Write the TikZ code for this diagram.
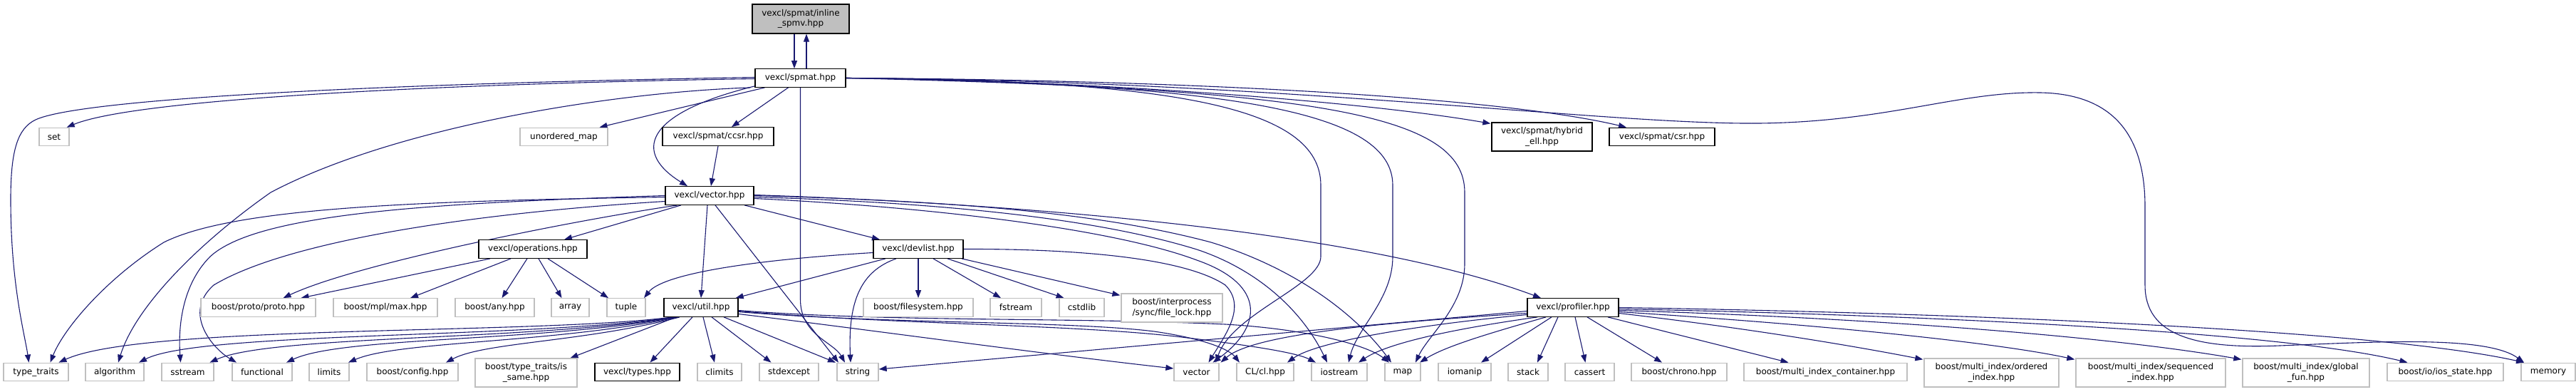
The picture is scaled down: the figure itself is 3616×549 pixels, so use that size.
\documentclass[tikz,border=0pt]{standalone}
\usepackage{fontspec}
\setmainfont{DejaVu Sans}
\usetikzlibrary{arrows.meta,backgrounds}
\definecolor{edgec}{RGB}{25,25,112}
\definecolor{grey75}{RGB}{191,191,191}
\tikzset{
  box/.style={rectangle, inner sep=0pt, minimum height=25.5pt, font=\fontsize{12}{14.5}\selectfont, align=center, fill=white},
  ext/.style={box, draw=grey75, line width=1.3pt},
  doc/.style={box, draw=black, line width=1.3pt},
  rootn/.style={box, draw=black, line width=1.3pt, fill=grey75},
  two/.style={minimum height=40pt},
  e/.style={draw=edgec, line width=1.1pt, -{Triangle[length=11pt,width=8pt]}},
}
\begin{document}
\begin{tikzpicture}[x=1pt,y=-1pt]
\useasboundingbox (0,0) rectangle (3616,549);
% ---- nodes
\node[rootn, two, minimum width=136pt, minimum height=41pt] (root) at (1124,26.5) {vexcl/spmat/inline\\\_spmv.hpp};
\node[doc, minimum width=127pt] (spmat) at (1123.5,109.5) {vexcl/spmat.hpp};
\node[ext, minimum width=42pt] (set) at (76,192) {set};
\node[ext, minimum width=123pt] (umap) at (791.5,192) {unordered\_map};
\node[doc, minimum width=156pt] (ccsr) at (1008,191.5) {vexcl/spmat/ccsr.hpp};
\node[doc, two, minimum width=141pt] (hyb) at (2164.5,192) {vexcl/spmat/hybrid\\\_ell.hpp};
\node[doc, minimum width=148pt] (csr) at (2333,192) {vexcl/spmat/csr.hpp};
\node[doc, minimum width=124pt] (vec) at (996,274.5) {vexcl/vector.hpp};
\node[doc, minimum width=152pt] (ops) at (748,349.5) {vexcl/operations.hpp};
\node[doc, minimum width=126pt] (dev) at (1289,349.5) {vexcl/devlist.hpp};
\node[ext, minimum width=161pt] (proto) at (362.5,431.5) {boost/proto/proto.hpp};
\node[ext, minimum width=146pt] (mpl) at (541,431.5) {boost/mpl/max.hpp};
\node[ext, minimum width=111pt] (any) at (694.5,431.5) {boost/any.hpp};
\node[ext, minimum width=53pt] (arr) at (800.5,431.5) {array};
\node[ext, minimum width=54pt] (tup) at (879,431.5) {tuple};
\node[doc, minimum width=104pt] (util) at (984,431.5) {vexcl/util.hpp};
\node[ext, minimum width=154pt] (fs) at (1289,431.5) {boost/filesystem.hpp};
\node[ext, minimum width=72pt] (fstr) at (1426,431.5) {fstream};
\node[ext, minimum width=63pt] (cstd) at (1518.5,431.5) {cstdlib};
\node[ext, two, minimum width=142pt] (flock) at (1645,432) {boost/interprocess\\/sync/file\_lock.hpp};
\node[doc, minimum width=128pt] (prof) at (2208,431.5) {vexcl/profiler.hpp};
% bottom row
\node[ext, minimum width=91pt] (tt) at (50.5,522) {type\_traits};
\node[ext, minimum width=82pt] (alg) at (161,522) {algorithm};
\node[ext, minimum width=73pt] (sstr) at (263.5,522) {sstream};
\node[ext, minimum width=84pt] (func) at (368,522) {functional};
\node[ext, minimum width=56pt] (lim) at (462,522) {limits};
\node[ext, minimum width=128pt] (cfg) at (579,522) {boost/config.hpp};
\node[ext, two, minimum width=143pt] (same) at (738.5,523) {boost/type\_traits/is\\\_same.hpp};
\node[doc, minimum width=119pt] (types) at (894.5,522) {vexcl/types.hpp};
\node[ext, minimum width=62pt] (clim) at (1010,522) {climits};
\node[ext, minimum width=83pt] (stdex) at (1107.5,522) {stdexcept};
\node[ext, minimum width=58pt] (str) at (1204,522) {string};
\node[ext, minimum width=63pt] (vstd) at (1679.5,522) {vector};
\node[ext, minimum width=80pt] (cl) at (1776,522) {CL/cl.hpp};
\node[ext, minimum width=78pt] (ios) at (1880,522) {iostream};
\node[ext, minimum width=50pt] (mapn) at (1969,522) {map};
\node[ext, minimum width=74pt] (iom) at (2056,522) {iomanip};
\node[ext, minimum width=56pt] (stk) at (2145,522) {stack};
\node[ext, minimum width=69pt] (cas) at (2231.5,522) {cassert};
\node[ext, minimum width=134pt] (chr) at (2357,522) {boost/chrono.hpp};
\node[ext, minimum width=229pt] (mic) at (2562.5,522) {boost/multi\_index\_container.hpp};
\node[ext, two, minimum width=189pt] (ord) at (2795.5,523) {boost/multi\_index/ordered\\\_index.hpp};
\node[ext, two, minimum width=210pt] (seq) at (3019,523) {boost/multi\_index/sequenced\\\_index.hpp};
\node[ext, two, minimum width=178pt] (glob) at (3237,523) {boost/multi\_index/global\\\_fun.hpp};
\node[ext, minimum width=163pt] (iost) at (3432.5,522) {boost/io/ios\_state.hpp};
\node[ext, minimum width=76pt] (mem) at (3577,522) {memory};
% ---- edges
\begin{pgfonlayer}{background}
% root <-> spmat
\draw[e] ([xshift=-9]root.south) -- ([xshift=-8.5]spmat.north);
\draw[e] ([xshift=8.5]spmat.north) -- ([xshift=8]root.south);
% spmat
\draw[e] ([yshift=-1]spmat.west) .. controls (700,116) and (200,135) .. ([xshift=-4]set.north east);
\draw[e] ([yshift=1]spmat.west) .. controls (500,118) and (110,140) .. (50,168) .. controls (25,180) and (15,210) .. (15,280) .. controls (15,400) and (35,470) .. ([xshift=-10]tt.north);
\draw[e] ([xshift=-70]spmat.south) .. controls (850,130) and (550,180) .. (380,270) .. controls (280,340) and (190,430) .. ([xshift=5]alg.north);
\draw[e] ([xshift=-50]spmat.south) -- ([xshift=50]umap.north);
\draw[e] ([xshift=-17]spmat.south) -- ([xshift=19]ccsr.north);
\draw[e] ([yshift=2]spmat.south west) .. controls (900,160) and (890,215) .. ([xshift=-31]vec.north);
\draw[e] (spmat.south) -- (1123.5,420) .. controls (1123.5,470) and (1170,480) .. ([xshift=-18]str.north);
\draw[e] (spmat.east) .. controls (1500,112) and (1900,140) .. ([xshift=-1,yshift=-2]hyb.north west);
\draw[e] (spmat.east) .. controls (1650,112) and (2100,135) .. ([xshift=-50]csr.north);
\draw[e] (spmat.east) .. controls (1800,113) and (2250,175) .. (2469,173) .. controls (2650,171) and (2750,128) .. (2864,130) .. controls (2975,132) and (3011,200) .. (3011,290) -- (3011,400) .. controls (3011,470) and (3080,490) .. (3200,485) .. controls (3330,480) and (3490,470) .. ([xshift=-34]mem.north);
\draw[e] (spmat.east) .. controls (1650,113) and (1854,150) .. (1854,260) -- (1854,360) .. controls (1854,400) and (1730,440) .. ([xshift=27]vstd.north);
\draw[e] (spmat.east) .. controls (1750,118) and (1955,160) .. (1955,260) -- (1955,360) .. controls (1955,420) and (1905,460) .. ([xshift=13]ios.north);
\draw[e] (spmat.east) .. controls (1850,125) and (2056,160) .. (2056,270) -- (2056,370) .. controls (2056,430) and (2005,470) .. ([xshift=18]mapn.north);
% ccsr
\draw[e] (ccsr.south) -- ([xshift=2]vec.north);
% vector.hpp
\draw[e] ([yshift=-2]vec.west) .. controls (600,282) and (330,290) .. (230,340) .. controls (150,390) and (90,460) .. ([xshift=20]tt.north);
\draw[e] (vec.west) .. controls (600,285) and (360,300) .. (295,360) .. controls (255,400) and (250,460) .. ([xshift=-10]sstr.north);
\draw[e] ([yshift=-8]vec.west) .. controls (650,300) and (400,340) .. (300,400) .. controls (255,440) and (300,490) .. ([xshift=-36]func.north);
\draw[e] ([xshift=-45]vec.south) .. controls (800,310) and (500,370) .. ([xshift=35]proto.north);
\draw[e] ([xshift=-40]vec.south) -- ([xshift=44]ops.north);
\draw[e] ([xshift=-3]vec.south) -- (util.north);
\draw[e] ([xshift=8]vec.south) -- ([xshift=-27]str.north);
\draw[e] ([xshift=49]vec.south) -- ([xshift=-54]dev.north);
\draw[e] ([yshift=1]vec.east) .. controls (1400,285) and (1900,320) .. ([xshift=-45]prof.north);
\draw[e] (vec.east) .. controls (1350,282) and (1550,300) .. (1700,340) .. controls (1830,380) and (1910,450) .. ([xshift=-16]mapn.north);
\draw[e] ([yshift=-2]vec.east) .. controls (1350,285) and (1550,310) .. (1680,350) .. controls (1770,380) and (1830,440) .. ([xshift=-17]ios.north);
\draw[e] ([yshift=-4]vec.east) .. controls (1300,290) and (1560,320) .. (1680,365) .. controls (1780,400) and (1770,460) .. ([xshift=23]vstd.north);
% operations
\draw[e] ([xshift=-60]ops.south) -- ([xshift=60]proto.north);
\draw[e] ([xshift=-31]ops.south) -- ([xshift=35]mpl.north);
\draw[e] ([xshift=-8]ops.south) -- ([xshift=10]any.north);
\draw[e] ([xshift=8]ops.south) -- ([xshift=-12]arr.north);
\draw[e] ([xshift=21]ops.south) -- ([xshift=-25]tup.north);
% devlist
\draw[e] ([yshift=-5]dev.west) .. controls (1050,365) and (930,385) .. ([xshift=25]tup.north);
\draw[e] ([xshift=-46]dev.south) -- ([xshift=-4]util.north east);
\draw[e] ([xshift=-31]dev.south) .. controls (1210,380) and (1190,420) .. ([xshift=-10]str.north);
\draw[e] (dev.south) -- (fs.north);
\draw[e] ([xshift=21]dev.south) -- ([xshift=-21]fstr.north);
\draw[e] ([xshift=41]dev.south) -- ([xshift=-25]cstd.north);
\draw[e] ([xshift=61]dev.south) -- ([xshift=-1,yshift=-3]flock.north west);
\draw[e] (dev.east) .. controls (1500,349) and (1660,360) .. (1720,400) .. controls (1750,430) and (1720,470) .. ([xshift=17]vstd.north);
% util
\draw[e] ([xshift=-40]util.south) .. controls (750,470) and (200,455) .. ([xshift=32]tt.north);
\draw[e] ([xshift=-38]util.south) .. controls (750,475) and (280,465) .. ([xshift=34]alg.north);
\draw[e] ([xshift=-36]util.south) .. controls (750,478) and (380,470) .. ([xshift=31]sstr.north);
\draw[e] ([xshift=-34]util.south) .. controls (760,480) and (480,472) .. ([xshift=34]func.north);
\draw[e] ([xshift=-32]util.south) .. controls (780,482) and (560,478) .. ([xshift=27]lim.north);
\draw[e] ([xshift=-30]util.south) .. controls (820,480) and (680,480) .. ([xshift=47]cfg.north);
\draw[e] ([xshift=-35]util.south) -- ([xshift=62]same.north);
\draw[e] ([xshift=-12]util.south) -- ([xshift=18]types.north);
\draw[e] ([xshift=3]util.south) -- ([xshift=-7]clim.north);
\draw[e] ([xshift=15]util.south) -- ([xshift=-25]stdex.north);
\draw[e] ([xshift=32]util.south) -- ([xshift=-31]str.north);
\draw[e] ([yshift=-9]util.east) .. controls (1200,460) and (1450,495) .. ([yshift=5]vstd.west);
\draw[e] ([yshift=-6]util.east) .. controls (1250,455) and (1500,450) .. (1620,465) .. controls (1690,475) and (1725,490) .. ([xshift=-36]cl.north);
\draw[e] ([yshift=-5]util.east) .. controls (1250,455) and (1500,455) .. (1650,472) .. controls (1760,485) and (1820,495) .. ([xshift=-33]ios.north);
\draw[e] ([yshift=-4]util.east) .. controls (1250,452) and (1500,445) .. (1720,455) .. controls (1840,462) and (1920,485) .. ([xshift=-19]mapn.north);
% profiler
\draw[e] ([yshift=-5]prof.west) -- ([yshift=4]str.east);
\draw[e] ([yshift=-8]prof.west) .. controls (1950,452) and (1760,468) .. ([xshift=34]vstd.north);
\draw[e] ([yshift=-10]prof.west) .. controls (2000,455) and (1850,478) .. ([xshift=31]cl.north);
\draw[e] ([xshift=-50]prof.south) .. controls (2050,460) and (1950,480) .. ([xshift=27]ios.north);
\draw[e] ([xshift=-38]prof.south) .. controls (2100,465) and (2030,485) .. ([xshift=24]mapn.north);
\draw[e] ([xshift=-30]prof.south) -- ([xshift=23]iom.north);
\draw[e] ([xshift=-21]prof.south) -- ([xshift=13]stk.north);
\draw[e] ([xshift=3]prof.south) -- ([xshift=-6]cas.north);
\draw[e] ([xshift=20]prof.south) -- ([xshift=-24]chr.north);
\draw[e] ([xshift=49]prof.south) -- ([xshift=-52]mic.north);
\draw[e] ([yshift=-8]prof.east) .. controls (2450,460) and (2600,485) .. ([xshift=-1,yshift=-2]ord.north west);
\draw[e] ([yshift=-6]prof.east) .. controls (2550,455) and (2800,480) .. ([xshift=-1,yshift=-2]seq.north west);
\draw[e] ([yshift=-4]prof.east) .. controls (2600,445) and (2950,470) .. ([xshift=-1,yshift=-2]glob.north west);
\draw[e] ([yshift=-2]prof.east) .. controls (2700,442) and (3200,465) .. ([xshift=-53]iost.north);
\draw[e] (prof.east) .. controls (2800,440) and (3350,465) .. ([xshift=-34]mem.north);
\end{pgfonlayer}
\end{tikzpicture}
\end{document}
